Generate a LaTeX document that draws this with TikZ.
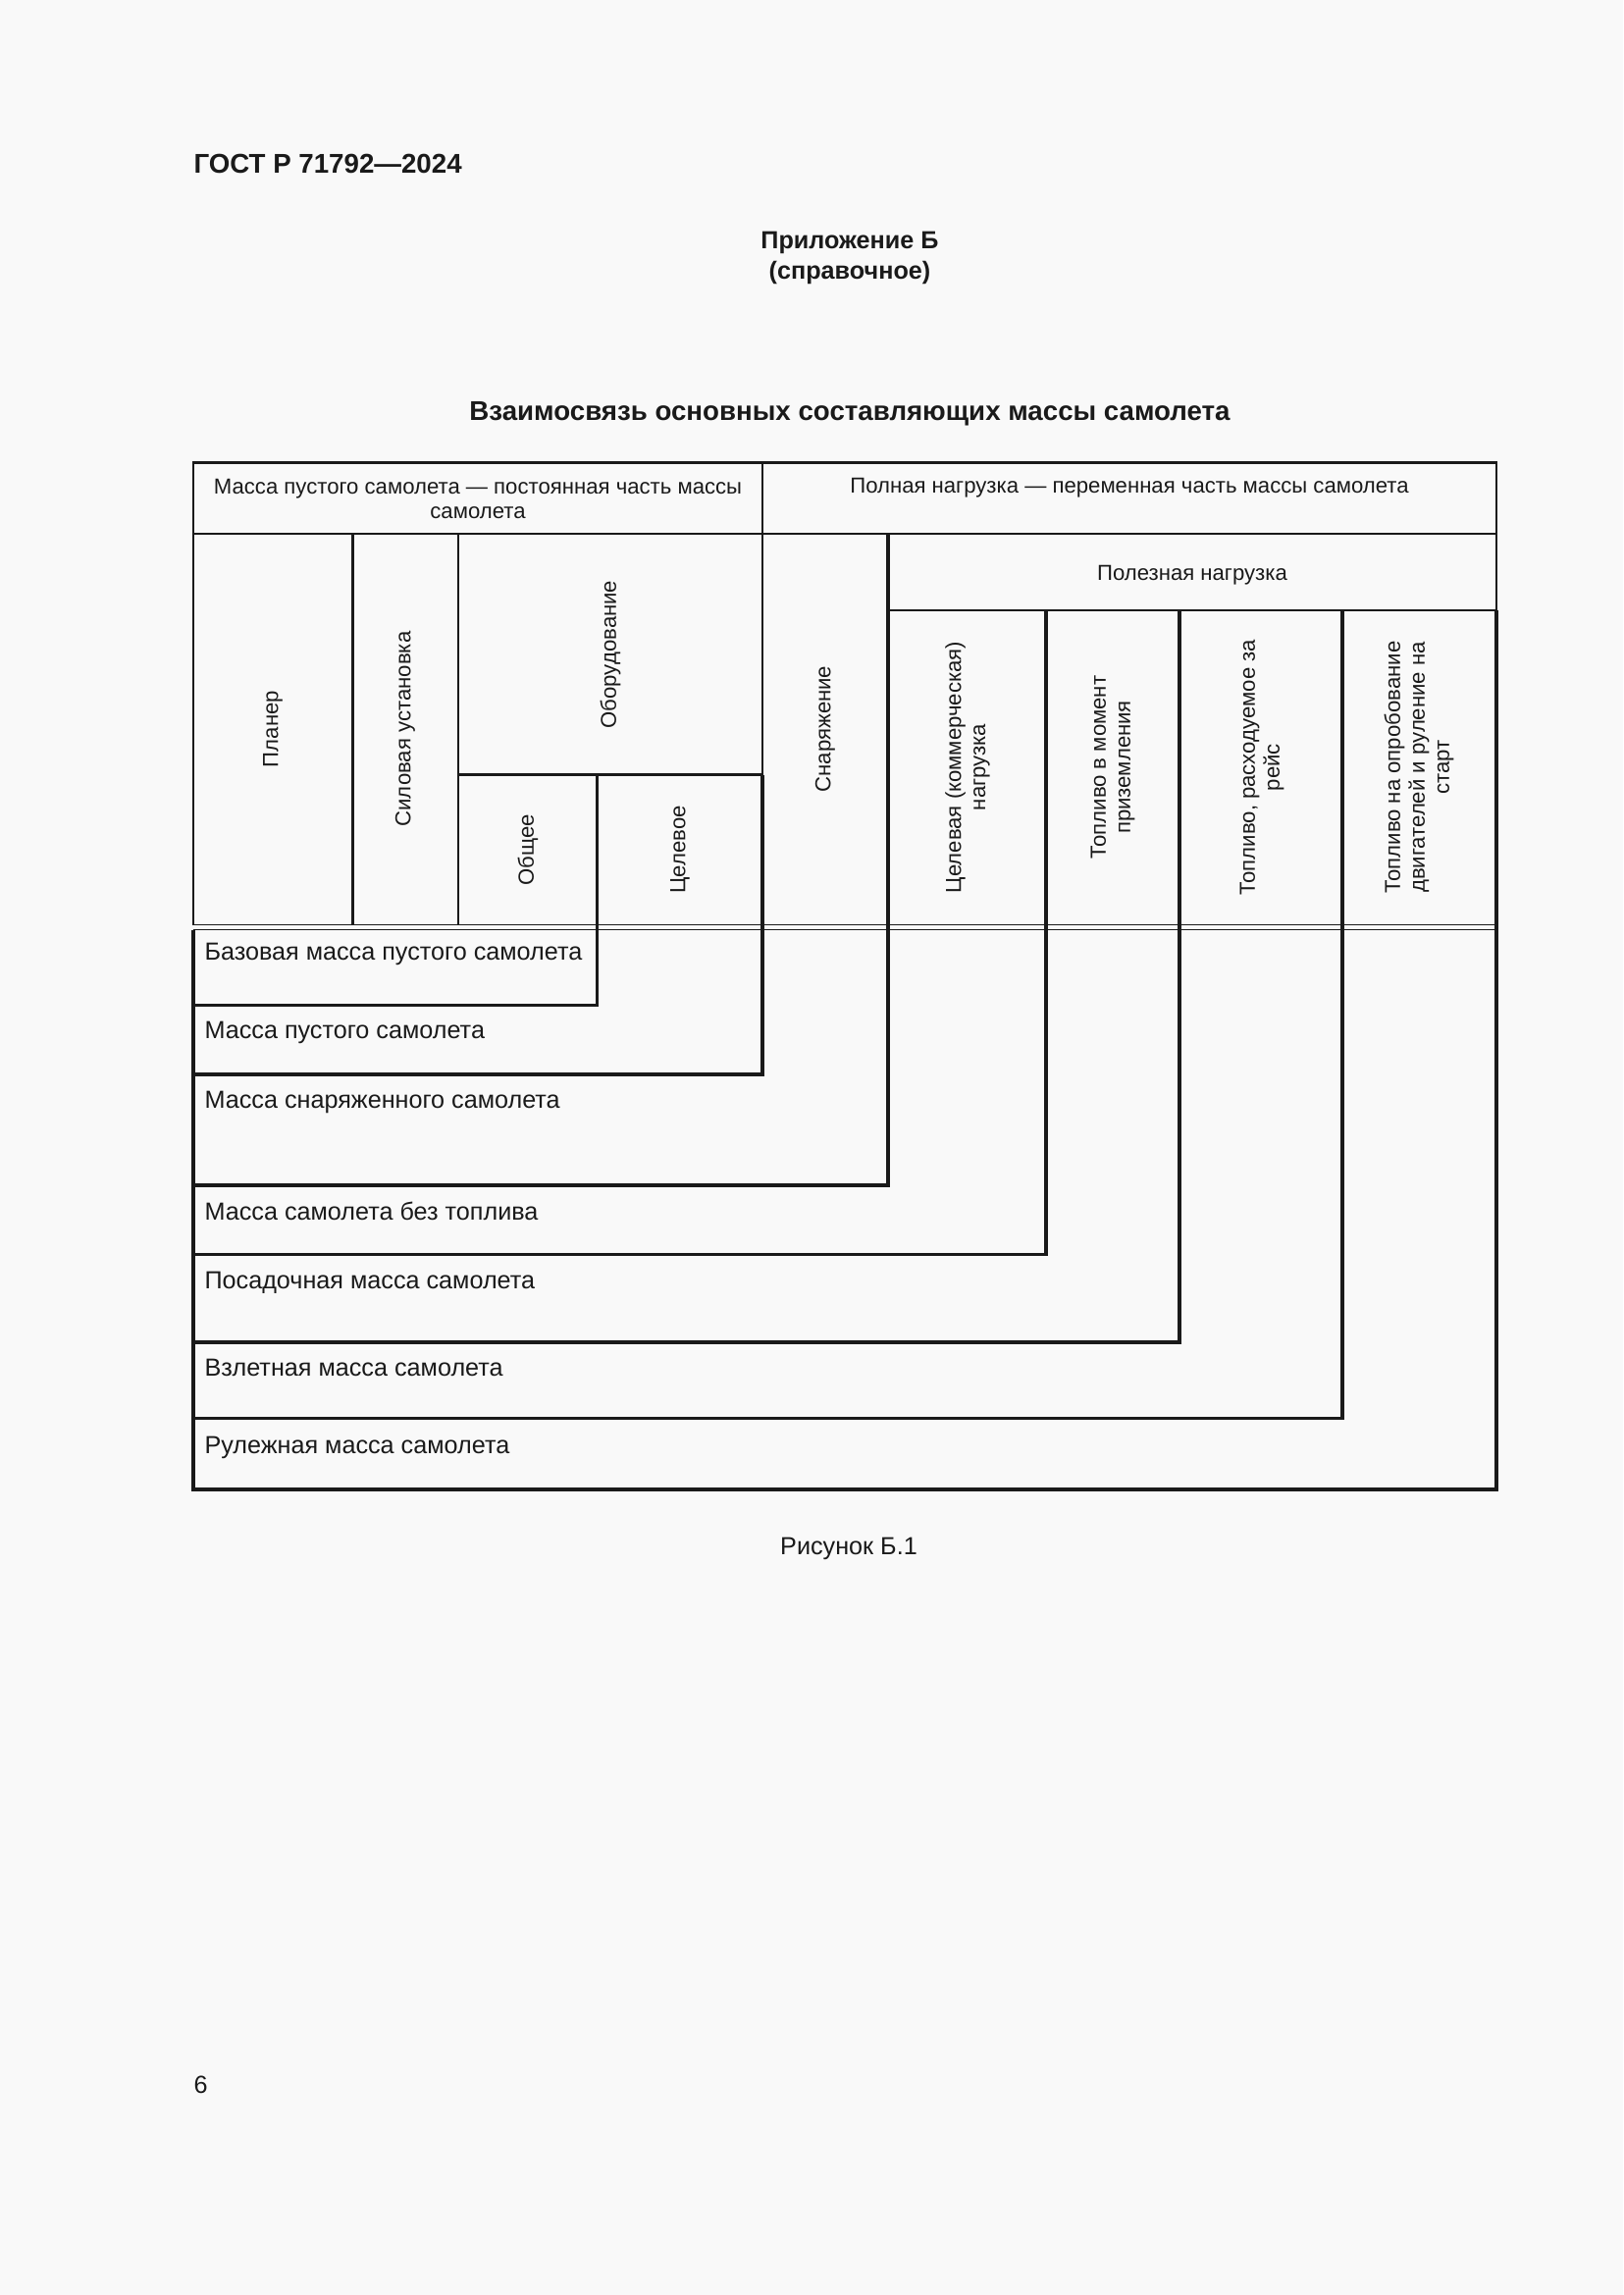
\documentclass[tikz,border=0pt]{standalone}
\usepackage{fontspec}
\setmainfont{Liberation Sans}
\usepackage{xcolor}
\usepackage{tikz}

\definecolor{paper}{HTML}{F9F9F9}
\definecolor{ink}{HTML}{1A1A1A}

\tikzset{
	thinln/.style={line width=0.4pt,ink},
	medln/.style={line width=0.8pt,ink},
	boldln/.style={line width=1.35pt,ink},
	celltxt/.style={font=\fontsize{8}{9}\selectfont,align=center,inner sep=0pt,text=ink},
	vtxt/.style={celltxt,rotate=90},
	masstxt/.style={font=\fontsize{9.1}{10}\selectfont,anchor=base west,inner sep=0pt,text=ink},
	headtxt/.style={font=\fontsize{10}{12}\selectfont\bfseries,inner sep=0pt,text=ink},
}

\begin{document}
\begin{tikzpicture}[x=0.126965mm,y=-0.126965mm]
		\fill [paper] (0,0) rectangle (1654,2339);
		% column edges
		\def\xa{197}  \def\xb{359.5} \def\xc{467}  \def\xd{608.5} \def\xe{777}
		\def\xf{905}  \def\xg{1066}  \def\xh{1202} \def\xi{1368}  \def\xj{1525}
		% row edges
		\def\ya{471.5} \def\yb{544} \def\yc{622} \def\yd{789.5}
		\def\dla{942.5} \def\dlb{947.5}

		% page texts
		\node [headtxt,anchor=base west] (gost) at (197,176.5) {ГОСТ Р 71792—2024};
		\node [headtxt,font=\fontsize{9.1}{11}\selectfont\bfseries,anchor=base] (annex) at (866,254) {Приложение Б};
		\node [headtxt,font=\fontsize{9.1}{11}\selectfont\bfseries,anchor=base] (annexkind) at (866,284) {(справочное)};
		\node [headtxt,anchor=base] (title) at (866,428) {Взаимосвязь основных составляющих массы самолета};

		% header
		\draw [medln] (\xa,\ya) rectangle (\xj,\yb);
		\draw [medln] (\xe,\ya) -- (\xe,\yd);
		\draw [medln] (\xa,\yb) -- (\xa,\dla);
		\draw [medln] (\xb,\yb) -- (\xb,\dla);
		\draw [medln] (\xc,\yb) -- (\xc,\dla);
		\draw [medln] (\xj,\yb) -- (\xj,\yc);
		\draw [line width=0.95pt,ink] (\xc,\yd) -- (\xe,\yd);
		\draw [line width=0.95pt,ink] (\xf,\yc) -- (\xj,\yc);
		\draw [thinln] (\xa,\dla) -- (\xj,\dla);
		\draw [thinln] (\xa,\dlb) -- (\xj,\dlb);

		% steps
		\draw [boldln] (\xa,\dlb) -- (\xa,1518) -- (\xj,1518) -- (\xj,\yc);
		\draw [boldln] (\xa,1024.5) -| (\xd,\yd);
		\draw [boldln] (\xa,1095) -| (\xe,\yd);
		\draw [boldln] (\xa,1208) -| (\xf,\yb);
		\draw [boldln] (\xa,1278.5) -| (\xg,\yc);
		\draw [boldln] (\xa,1368) -| (\xh,\yc);
		\draw [boldln] (\xa,1445.5) -| (\xi,\yc);

		\node [celltxt] (empty) at (487,508.5) {Масса пустого самолета — постоянная часть массы\\самолета};
		\node [celltxt] (full) at (1151,497) {Полная нагрузка — переменная часть массы самолета};
		\node [celltxt] (useful) at (1215,586) {Полезная нагрузка};

		\node [vtxt] (frame) at (278,743) {Планер};
		\node [vtxt] (power) at (413,743) {Силовая установка};
		\node [vtxt] (equip) at (622,667) {Оборудование};
		\node [vtxt] (common) at (538,866) {Общее};
		\node [vtxt] (special) at (693,866) {Целевое};
		\node [vtxt] (outfit) at (841,743) {Снаряжение};
		\node [vtxt] (cargo) at (986,782) {Целевая (коммерческая)\\нагрузка};
		\node [vtxt] (fland) at (1134,782) {Топливо в момент\\приземления};
		\node [vtxt] (ftrip) at (1286,782) {Топливо, расходуемое за\\рейс};
		\node [vtxt] (ftaxi) at (1446,782) {Топливо на опробование\\двигателей и руление на\\старт};

		\node [masstxt] (mbase) at (208,978) {Базовая масса пустого самолета};
		\node [masstxt] (mempty) at (208,1058) {Масса пустого самолета};
		\node [masstxt] (mequip) at (208,1129) {Масса снаряженного самолета};
		\node [masstxt] (mzero) at (208,1243) {Масса самолета без топлива};
		\node [masstxt] (mland) at (208,1313.5) {Посадочная масса самолета};
		\node [masstxt] (mtake) at (208,1402) {Взлетная масса самолета};
		\node [masstxt] (mtaxi) at (208,1481.5) {Рулежная масса самолета};

		\node [masstxt,anchor=base] (caption) at (865,1584) {Рисунок Б.1};
		\node [masstxt] (pageno) at (197,2133) {6};
	\end{tikzpicture}
\end{document}
